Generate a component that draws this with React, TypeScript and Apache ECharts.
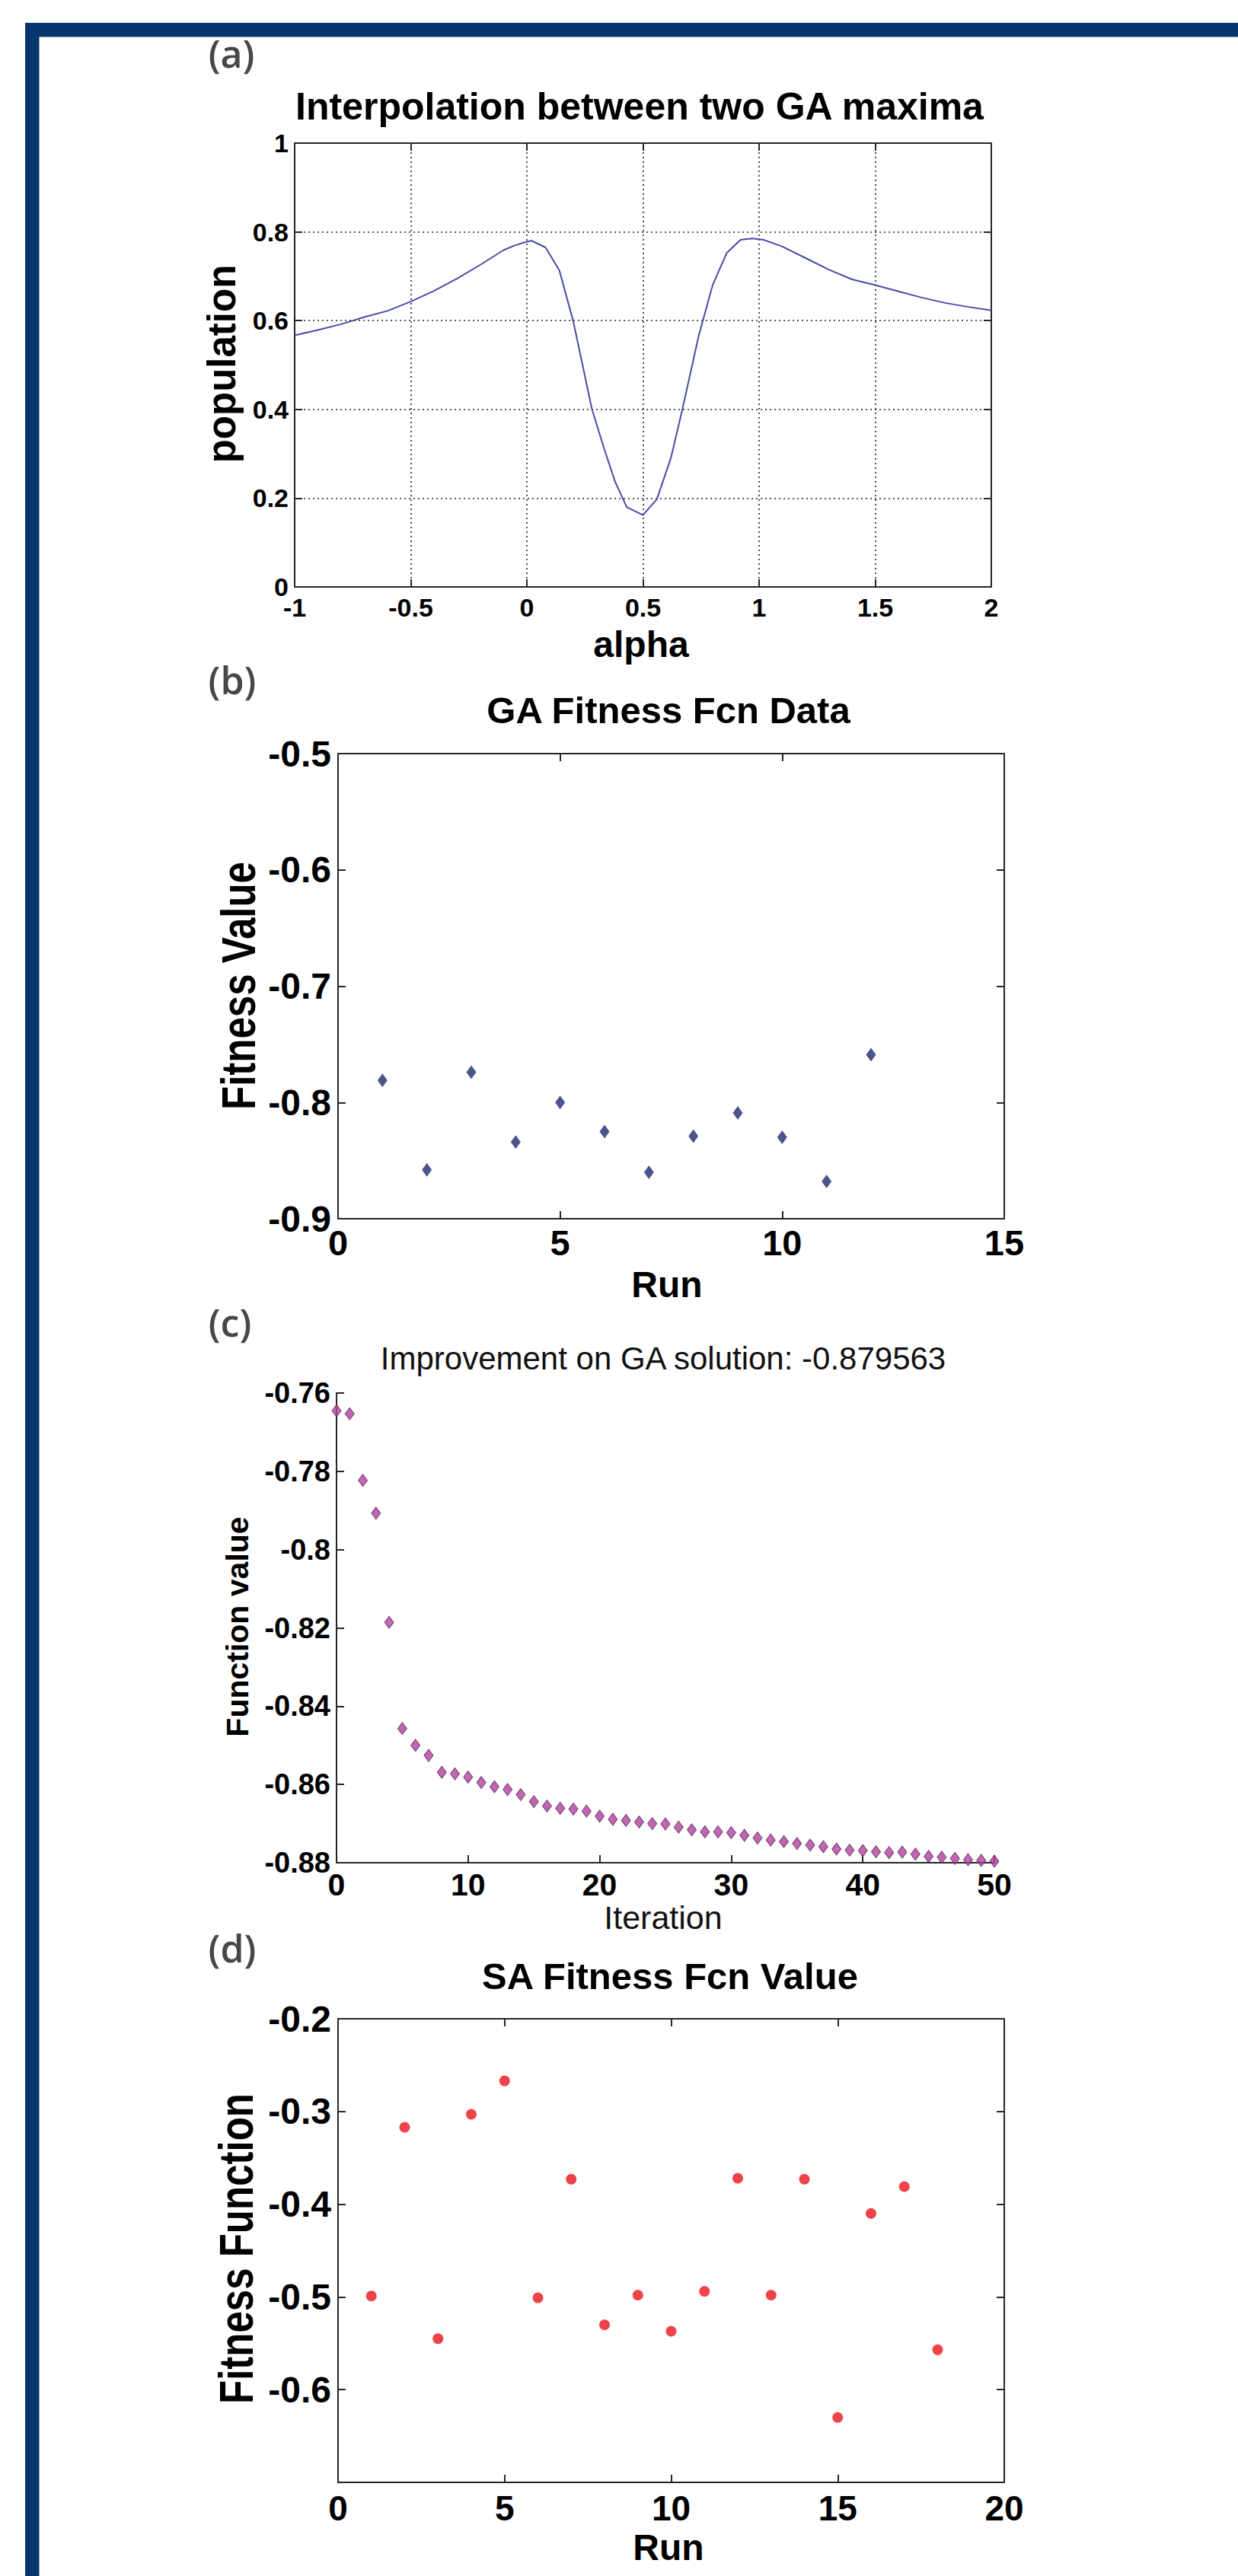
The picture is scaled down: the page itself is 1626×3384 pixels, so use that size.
import React, { useEffect, useRef } from "react";
import * as echarts from "echarts";

const PAGE_W = 1626;
const PAGE_H = 3384;

// ---------- Panel (a) ----------
const aTitle = "Interpolation between two GA maxima";
const aXName = "alpha";
const aYName = "population";
const aAlpha = [
  -1, -0.9, -0.8, -0.7, -0.6, -0.5, -0.4, -0.3, -0.2, -0.1, -0.05, 0, 0.02, 0.08, 0.14, 0.2,
  0.28, 0.33, 0.38, 0.43, 0.5, 0.56, 0.62, 0.67, 0.74, 0.8, 0.86, 0.92, 0.97, 1.02, 1.1, 1.2,
  1.3, 1.4, 1.5, 1.6, 1.7, 1.8, 1.9, 2.0,
];
const aPopulation = [
  0.567, 0.579, 0.592, 0.608, 0.622, 0.643, 0.667, 0.695, 0.726, 0.759, 0.77, 0.778, 0.78, 0.765,
  0.713, 0.598, 0.401, 0.316, 0.237, 0.18, 0.162, 0.198, 0.29, 0.401, 0.566, 0.68, 0.752, 0.782,
  0.785, 0.782, 0.767, 0.741, 0.715, 0.693, 0.68, 0.666, 0.652, 0.64, 0.631, 0.623,
];
const aXTicks = { min: -1, max: 2, interval: 0.5 };
const aYTicks = { min: 0, max: 1, interval: 0.2 };

// ---------- Panel (b) ----------
const bTitle = "GA Fitness Fcn Data";
const bXName = "Run";
const bYName = "Fitness Value";
const bRuns = [1, 2, 3, 4, 5, 6, 7, 8, 9, 10, 11, 12];
const bFitness = [
  -0.781, -0.858, -0.774, -0.834, -0.8, -0.825, -0.86, -0.829, -0.809, -0.83, -0.868, -0.759,
];
const bXTicks = { min: 0, max: 15, interval: 5 };
const bYTicks = { min: -0.9, max: -0.5, interval: 0.1 };

// ---------- Panel (c) ----------
const cTitle = "Improvement on GA solution: -0.879563";
const cXName = "Iteration";
const cYName = "Function value";
const cIterations = [
  0, 1, 2, 3, 4, 5, 6, 7, 8, 9, 10, 11, 12, 13, 14, 15, 16, 17, 18, 19, 20, 21, 22, 23, 24, 25,
  26, 27, 28, 29, 30, 31, 32, 33, 34, 35, 36, 37, 38, 39, 40, 41, 42, 43, 44, 45, 46, 47, 48, 49, 50,
];
const cValues = [
  -0.7645, -0.7653, -0.7823, -0.7907, -0.8186, -0.8457, -0.85, -0.8526, -0.8569, -0.8573, -0.8581,
  -0.8595, -0.8606, -0.8613, -0.8626, -0.8644, -0.8655, -0.8661, -0.8663, -0.8668, -0.8681,
  -0.8689, -0.8692, -0.8696, -0.87, -0.8701, -0.8709, -0.8716, -0.8721, -0.8721, -0.8723, -0.873,
  -0.8737, -0.8742, -0.8746, -0.8751, -0.8755, -0.8759, -0.8765, -0.8768, -0.8769, -0.8772,
  -0.8774, -0.8773, -0.8778, -0.8784, -0.8786, -0.8789, -0.8792, -0.8794, -0.8796,
];
const cXTicks = { min: 0, max: 50, interval: 10 };
const cYTicks = { min: -0.88, max: -0.76, interval: 0.02 };

// ---------- Panel (d) ----------
const dTitle = "SA Fitness Fcn Value";
const dXName = "Run";
const dYName = "Fitness Function";
const dRuns = [1, 2, 3, 4, 5, 6, 7, 8, 9, 10, 11, 12, 13, 14, 15, 16, 17, 18];
const dFitness = [
  -0.499, -0.317, -0.545, -0.303, -0.267, -0.501, -0.373, -0.53, -0.498, -0.537, -0.494, -0.372,
  -0.498, -0.373, -0.63, -0.41, -0.381, -0.557,
];
const dXTicks = { min: 0, max: 20, interval: 5 };
const dYTicks = { min: -0.7, max: -0.2, interval: 0.1 };
const dHiddenYLabels = [-0.7];

const panelLabels = ["(a)", "(b)", "(c)", "(d)"];

// ---------- styling ----------
const FONT = "'Liberation Sans', Arial, Helvetica, sans-serif";
const LABEL_FONT = "'Open Sans', 'Noto Sans', sans-serif";
const AXIS_COLOR = "#262626";
const NAVY = "#04366b";

const fmt = (v: number) => String(Number(v.toFixed(3)));

type AxisCfg = {
  gridIndex: number;
  position: string;
  ticks: { min: number; max: number; interval: number };
  labelSize?: number;
  margin?: number;
  showLabels: boolean;
  grid?: boolean;
  hidden?: number[];
};

function makeAxis(c: AxisCfg) {
  const hidden = c.hidden || [];
  return {
    type: "value",
    gridIndex: c.gridIndex,
    position: c.position,
    min: c.ticks.min,
    max: c.ticks.max,
    interval: c.ticks.interval,
    axisLine: { show: true, onZero: false, lineStyle: { color: AXIS_COLOR, width: 2 } },
    axisTick: { show: true, inside: true, length: 10, lineStyle: { color: AXIS_COLOR, width: 2 } },
    axisLabel: c.showLabels
      ? {
          show: true,
          color: "#000",
          fontFamily: FONT,
          fontWeight: "bold",
          fontSize: c.labelSize,
          margin: c.margin,
          formatter: (v: number) =>
            hidden.some((h) => Math.abs(h - v) < 1e-6) ? "" : fmt(v),
        }
      : { show: false },
    splitLine: c.grid
      ? { show: true, lineStyle: { color: "#222", width: 1.6, type: [2, 4] } }
      : { show: false },
  };
}

function text(
  str: string,
  x: number,
  y: number,
  size: number,
  weight: string,
  opts: any = {}
) {
  return {
    type: "text",
    x,
    y,
    rotation: opts.rotation || 0,
    scaleX: opts.scaleX || 1,
    scaleY: opts.scaleY || 1,
    z: 10,
    style: {
      text: str,
      fontSize: size,
      fontWeight: weight,
      fontFamily: opts.font || FONT,
      fill: opts.color || "#000",
      align: "center",
      verticalAlign: "middle",
      textAlign: "center",
      textVerticalAlign: "middle",
    },
  };
}

export default function App() {
  const ref = useRef<HTMLDivElement>(null);

  useEffect(() => {
    document.body.style.margin = "0";
    if (!ref.current) return;
    const chart = echarts.init(ref.current, null, { renderer: "svg" });

    const grids = [
      { left: 387, top: 188, width: 915, height: 583 },
      { left: 444, top: 990, width: 875, height: 611 },
      { left: 442, top: 1830, width: 864, height: 617 },
      { left: 444, top: 2652, width: 875, height: 609 },
    ];

    const xAxis = [
      makeAxis({ gridIndex: 0, position: "bottom", ticks: aXTicks, labelSize: 34, margin: 10, showLabels: true, grid: true }),
      makeAxis({ gridIndex: 0, position: "top", ticks: aXTicks, showLabels: false }),
      makeAxis({ gridIndex: 1, position: "bottom", ticks: bXTicks, labelSize: 47, margin: 8, showLabels: true }),
      makeAxis({ gridIndex: 1, position: "top", ticks: bXTicks, showLabels: false }),
      makeAxis({ gridIndex: 2, position: "bottom", ticks: cXTicks, labelSize: 41, margin: 8, showLabels: true }),
      makeAxis({ gridIndex: 3, position: "bottom", ticks: dXTicks, labelSize: 46, margin: 11, showLabels: true }),
      makeAxis({ gridIndex: 3, position: "top", ticks: dXTicks, showLabels: false }),
    ];
    const yAxis = [
      makeAxis({ gridIndex: 0, position: "left", ticks: aYTicks, labelSize: 34, margin: 8, showLabels: true, grid: true }),
      makeAxis({ gridIndex: 0, position: "right", ticks: aYTicks, showLabels: false }),
      makeAxis({ gridIndex: 1, position: "left", ticks: bYTicks, labelSize: 48, margin: 9, showLabels: true }),
      makeAxis({ gridIndex: 1, position: "right", ticks: bYTicks, showLabels: false }),
      makeAxis({ gridIndex: 2, position: "left", ticks: cYTicks, labelSize: 38, margin: 8, showLabels: true }),
      makeAxis({ gridIndex: 3, position: "left", ticks: dYTicks, labelSize: 48, margin: 9, showLabels: true, hidden: dHiddenYLabels }),
      makeAxis({ gridIndex: 3, position: "right", ticks: dYTicks, showLabels: false }),
    ];

    const series = [
      {
        type: "line",
        xAxisIndex: 0,
        yAxisIndex: 0,
        data: aAlpha.map((x, i) => [x, aPopulation[i]]),
        symbol: "none",
        showSymbol: false,
        lineStyle: { color: "#4a4aa6", width: 2 },
        z: 5,
      },
      {
        type: "scatter",
        xAxisIndex: 2,
        yAxisIndex: 2,
        data: bRuns.map((x, i) => [x, bFitness[i]]),
        symbol: "diamond",
        symbolSize: [13, 18],
        itemStyle: { color: "#1d2a6b" },
      },
      {
        type: "scatter",
        xAxisIndex: 4,
        yAxisIndex: 4,
        data: cIterations.map((x, i) => [x, cValues[i]]),
        symbol: "diamond",
        symbolSize: [12, 16],
        itemStyle: { color: "#b0409f", borderColor: "#5b2358", borderWidth: 1 },
      },
      {
        type: "scatter",
        xAxisIndex: 5,
        yAxisIndex: 5,
        data: dRuns.map((x, i) => [x, dFitness[i]]),
        symbol: "circle",
        symbolSize: 14,
        itemStyle: { color: "#e8141c" },
      },
    ];

    const labelPos = [
      [304, 70],
      [305, 893],
      [302, 1737],
      [305, 2559],
    ];

    const graphic: any[] = [
      { type: "rect", shape: { x: 33, y: 30, width: PAGE_W - 33, height: 18.5 }, style: { fill: NAVY }, z: 20 },
      { type: "rect", shape: { x: 33, y: 30, width: 18.5, height: PAGE_H - 30 }, style: { fill: NAVY }, z: 20 },
      ...panelLabels.map((l, i) =>
        text(l, labelPos[i][0], labelPos[i][1], 50, "600", { font: LABEL_FONT, color: "#474747" })
      ),
      // titles
      text(aTitle, 840, 140, 50, "bold"),
      text(bTitle, 878, 933, 49, "bold"),
      text(cTitle, 871, 1784, 42, "normal", { color: "#111" }),
      text(dTitle, 880, 2596, 49, "bold"),
      // x axis names
      text(aXName, 842, 846, 48, "bold"),
      text(bXName, 876, 1687, 48, "bold"),
      text(cXName, 871, 2519, 43, "normal", { color: "#111" }),
      text(dXName, 878, 3346, 48, "bold"),
      // y axis names
      text(aYName, 291, 478, 51, "bold", { rotation: Math.PI / 2 }),
      text(bYName, 313, 1295, 51, "bold", { rotation: Math.PI / 2, scaleY: 1.25 }),
      text(cYName, 312, 2137, 41, "bold", { rotation: Math.PI / 2 }),
      text(dYName, 310, 2954, 51, "bold", { rotation: Math.PI / 2, scaleY: 1.25 }),
    ];

    chart.setOption({
      animation: false,
      backgroundColor: "#ffffff",
      grid: grids.map((g) => ({ ...g, containLabel: false })),
      xAxis,
      yAxis,
      series,
      graphic: { elements: graphic },
    });

    return () => chart.dispose();
  }, []);

  return <div ref={ref} style={{ width: PAGE_W, height: PAGE_H }} />;
}
